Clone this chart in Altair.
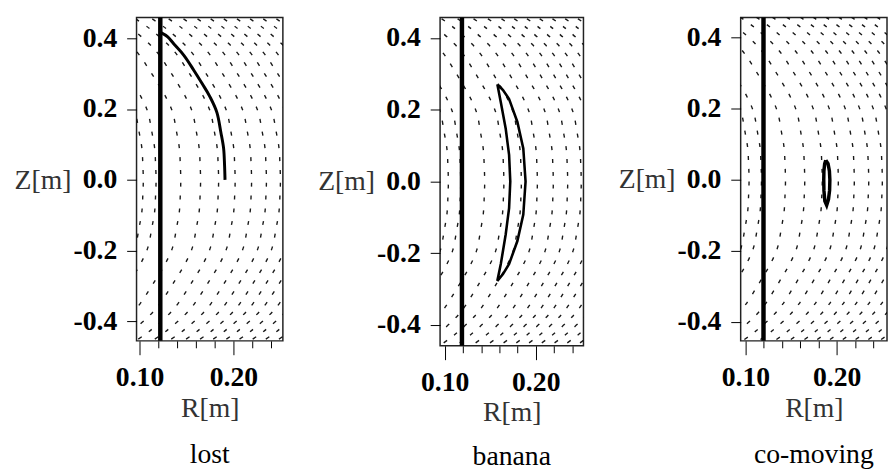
import altair as alt
import pandas as pd

FONT = "Liberation Serif"

# ---------------- data ----------------
captions = ["lost", "banana", "co-moving"]
caption_offset = [20, 17, 20]
wall_R = [0.1221, 0.1189, 0.1198]                      # thick vertical line
r_domains = [[0.0968, 0.2526], [0.0949, 0.2524], [0.0948, 0.2551]]
z_domains = [[-0.455, 0.4586], [-0.458, 0.457], [-0.4536, 0.4566]]
widths = [148, 145, 148]
heights = [327, 332, 327]
z_title_y = [164.5, 165.7, 164.2]

x_tick_values = [0.10, 0.12, 0.14, 0.16, 0.18, 0.20, 0.22, 0.24]
y_tick_values = [-0.4, -0.2, 0.0, 0.2, 0.4]

# orbits
lost_R = [0.1228, 0.1300, 0.1368, 0.1474, 0.1579, 0.1666, 0.1747, 0.1824, 0.1866, 0.1895, 0.1905, 0.1910]
lost_Z = [0.416, 0.404, 0.383, 0.351, 0.309, 0.272, 0.236, 0.190, 0.134, 0.089, 0.042, 0.0]

banana_R = [0.1578, 0.1640, 0.1707, 0.1798, 0.1863, 0.1888, 0.1863, 0.1798, 0.1707, 0.1640, 0.1578,
            0.1616, 0.1670, 0.1707, 0.1720, 0.1707, 0.1670, 0.1616, 0.1578]
banana_Z = [0.271, 0.255, 0.230, 0.166, 0.092, 0.0, -0.092, -0.166, -0.230, -0.258, -0.277,
            -0.230, -0.147, -0.074, 0.0, 0.074, 0.147, 0.221, 0.271]

co_R = [0.1880, 0.1905, 0.1920, 0.1925, 0.1922, 0.1910, 0.1890, 0.1870, 0.1860, 0.1858, 0.1860, 0.1868, 0.1880]
co_Z = [0.055, 0.045, 0.025, 0.0, -0.030, -0.055, -0.072, -0.060, -0.030, 0.0, 0.025, 0.045, 0.055]

# background flux-surface arcs: mid-plane crossing and shape profile
arc_mid_R = [0.104, 0.1176, 0.1439, 0.165, 0.1842, 0.2018, 0.2193, 0.2351, 0.25,
             0.264, 0.278, 0.292, 0.306, 0.32, 0.334, 0.348]
arc_prof_Z = [0.0, 0.042, 0.089, 0.134, 0.19, 0.236, 0.272, 0.309, 0.351, 0.383, 0.416, 0.44, 0.47]
arc_prof_dR = [0.0, -0.0005, -0.0015, -0.0044, -0.0086, -0.0163, -0.0244, -0.0331, -0.0436,
               -0.0542, -0.0682, -0.080, -0.097]

# ---------------- tables ----------------
arc_rows = []
for a, m in enumerate(arc_mid_R):
    k = 0
    for z, dr in reversed(list(zip(arc_prof_Z[1:], arc_prof_dR[1:]))):
        arc_rows.append({"arc": a, "k": k, "R": m + dr, "Z": -z}); k += 1
    for z, dr in zip(arc_prof_Z, arc_prof_dR):
        arc_rows.append({"arc": a, "k": k, "R": m + dr, "Z": z}); k += 1
arc_df = pd.DataFrame(arc_rows)

orbits = [
    pd.DataFrame({"R": lost_R, "Z": lost_Z, "k": range(len(lost_R))}),
    pd.DataFrame({"R": banana_R, "Z": banana_Z, "k": range(len(banana_R))}),
    pd.DataFrame({"R": co_R, "Z": co_Z, "k": range(len(co_R))}),
]
orbit_width = [3, 2.6, 3.5]
orbit_interp = ["cardinal", "linear", "linear"]

MAJOR = "abs(datum.value - 0.1) < 1e-6 || abs(datum.value - 0.2) < 1e-6"


def build(use_cond):
    panels = []
    for i in range(3):
        xs = alt.Scale(domain=r_domains[i], nice=False, zero=False)
        ys = alt.Scale(domain=z_domains[i], nice=False, zero=False)
        if use_cond:
            ts = alt.condition(MAJOR, alt.value(14), alt.value(7))
            lp = 9
        else:
            ts = 8
            lp = 8
        xaxis = alt.Axis(values=x_tick_values,
                         labelExpr="(" + MAJOR + ") ? format(datum.value, '.2f') : ''",
                         tickSize=ts, tickColor="black", tickWidth=1,
                         labelFont=FONT, labelFontSize=28, labelColor="black",
                         labelFontWeight="bold",
                         labelPadding=lp, labelOverlap=False, labelFlush=False,
                         domain=False, grid=False,
                         title="R[m]", titleFont=FONT, titleFontSize=28,
                         titleFontWeight="normal", titleColor="#333", titlePadding=3)
        yaxis = alt.Axis(values=y_tick_values,
                         labelExpr="datum.value < -1e-9 ? '-' + format(-datum.value, '.1f') : format(abs(datum.value), '.1f')",
                         tickSize=10, tickColor="black", tickWidth=1,
                         labelFont=FONT, labelFontSize=28, labelColor="black",
                         labelFontWeight="bold",
                         labelPadding=10, labelOverlap=False, labelFlush=False,
                         domain=False, grid=False,
                         title="Z[m]", titleFont=FONT, titleFontSize=28,
                         titleFontWeight="normal", titleColor="#333",
                         titleAngle=0, titleAlign="right", titleBaseline="middle",
                         titleY=z_title_y[i], titlePadding=2)

        bg = alt.Chart(arc_df).mark_line(
            color="black", strokeWidth=1.4, strokeDash=[4, 9], clip=True,
            interpolate="cardinal", opacity=0.9
        ).encode(
            x=alt.X("R:Q", scale=xs, axis=xaxis),
            y=alt.Y("Z:Q", scale=ys, axis=yaxis),
            detail="arc:N", order="k:Q",
        )
        wall = alt.Chart(pd.DataFrame({"R": [wall_R[i]]})).mark_rule(
            color="black", strokeWidth=4.5
        ).encode(x=alt.X("R:Q", scale=xs, axis=xaxis))
        orb = alt.Chart(orbits[i]).mark_line(
            color="black", strokeWidth=orbit_width[i], clip=True,
            interpolate=orbit_interp[i]
        ).encode(
            x=alt.X("R:Q", scale=xs, axis=xaxis),
            y=alt.Y("Z:Q", scale=ys, axis=yaxis),
            order="k:Q",
        )
        p = alt.layer(bg, wall, orb).properties(
            width=widths[i], height=heights[i],
            title=alt.TitleParams(captions[i], orient="bottom", font=FONT, fontSize=28,
                                  fontWeight="normal", color="black",
                                  offset=caption_offset[i], anchor="middle"),
        )
        panels.append(p)
    ch = alt.hconcat(*panels, spacing=33).properties(
        padding={"left": 5, "top": 4, "right": 0, "bottom": 0}
    ).configure_view(stroke="#222", strokeWidth=1.5)
    return ch


try:
    chart = build(True)
    chart.to_dict()
except Exception:
    chart = build(False)

chart.save("out.html", embed_options={"renderer": "svg", "actions": False})
